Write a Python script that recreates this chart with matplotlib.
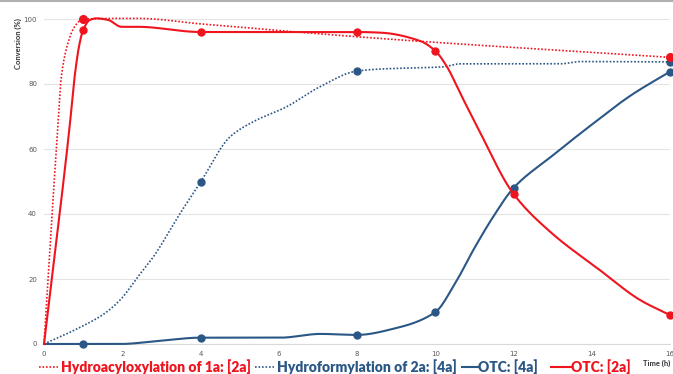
import numpy as np
import matplotlib
matplotlib.use("Agg")
import matplotlib.pyplot as plt
from matplotlib.lines import Line2D

# values (time in h, conversion in %)
red_dot_x = [0, 0.18, 0.36, 0.44, 0.61, 0.78, 1.0, 2.4, 4, 8.6, 16]
red_dot_y = [0, 35, 68, 82, 92.5, 97.6, 100, 100.2, 98.5, 94, 88.2]
red_dot_mx = [1, 16]
red_dot_my = [100, 88.2]

blue_dot_x = [0, 0.95, 1.55, 1.98, 2.4, 2.8, 3.48, 4, 4.76, 5.35, 6.2, 7.06, 8, 8.59, 10.2, 10.64, 13.2, 13.7, 16]
blue_dot_y = [0, 5.3, 9.4, 14.0, 20.7, 26.9, 40.2, 49.8, 63.8, 68.4, 73, 79.2, 84, 84.6, 85.3, 86.2, 86.2, 86.9, 86.8]
blue_dot_mx = [4, 8, 16]
blue_dot_my = [49.8, 84, 86.8]

blue_x = [0, 1, 1.94, 2.97, 4, 6.04, 7.06, 8, 9, 10, 10.5, 11, 11.5, 12, 13, 14, 15, 16]
blue_y = [0, 0, 0, 1.0, 1.95, 1.95, 3.1, 2.8, 4.9, 9.8, 18.5, 29.5, 39.5, 48, 58, 67.5, 76.5, 83.8]
blue_mx = [1, 4, 8, 10, 12, 16]
blue_my = [0, 2, 2.8, 9.8, 48, 83.8]

red_x = [0, 0.33, 0.66, 0.78, 0.91, 1, 1.17, 1.34, 1.64, 1.98, 2.4, 4, 8, 8.6, 9.6, 10, 10.3, 10.64, 11.07, 12, 12.94, 14.2, 15.24, 16]
red_y = [0, 33, 67.5, 82, 92.5, 96.6, 99.7, 100.2, 99.7, 97.6, 97.6, 96, 96, 95.8, 93.3, 90.2, 85.3, 77.1, 66.9, 46.2, 34.5, 22.8, 13.5, 8.9]
red_mx = [1, 4, 8, 10, 12, 16]
red_my = [96.6, 96, 96, 90.2, 46.2, 8.9]

RED = '#f0141e'
BLUE = '#2b5786'
W, H = 673, 374


def smooth(x, y, n=30):
    # monotone cubic (Fritsch-Carlson) just for drawing the curve
    x = np.asarray(x, float)
    y = np.asarray(y, float)
    h = np.diff(x)
    d = np.diff(y) / h
    m = np.zeros_like(y)
    m[0], m[-1] = d[0], d[-1]
    for k in range(1, len(x) - 1):
        if d[k - 1] * d[k] > 0:
            w1 = 2 * h[k] + h[k - 1]
            w2 = h[k] + 2 * h[k - 1]
            m[k] = (w1 + w2) / (w1 / d[k - 1] + w2 / d[k])
    xs, ys = [], []
    for k in range(len(x) - 1):
        t = np.linspace(0, 1, n, endpoint=False)
        h00 = 2 * t**3 - 3 * t**2 + 1
        h10 = t**3 - 2 * t**2 + t
        h01 = -2 * t**3 + 3 * t**2
        h11 = t**3 - t**2
        xs.append(x[k] + t * h[k])
        ys.append(h00 * y[k] + h10 * h[k] * m[k] + h01 * y[k + 1] + h11 * h[k] * m[k + 1])
    xs.append([x[-1]])
    ys.append([y[-1]])
    return np.concatenate(xs), np.concatenate(ys)


fig = plt.figure(figsize=(W / 100, H / 100), dpi=100)
ax = fig.add_axes([44 / W, 1 - 344 / H, 626 / W, 325 / H])
ax.set_xlim(0, 16)
ax.set_ylim(0, 100)

dots = (0, (1, 1.1))
sx, sy = smooth(blue_dot_x, blue_dot_y)
ax.plot(sx, sy, color=BLUE, lw=1.2, ls=dots, clip_on=False, zorder=3)
ax.plot(blue_dot_mx, blue_dot_my, 'o', color=BLUE, ms=5, clip_on=False, zorder=3)

sx, sy = smooth(red_dot_x, red_dot_y)
ax.plot(sx, sy, color=RED, lw=1.2, ls=dots, clip_on=False, zorder=4)
ax.plot(red_dot_mx, red_dot_my, 'o', color=RED, ms=5.5, clip_on=False, zorder=4)

sx, sy = smooth(blue_x, blue_y)
ax.plot(sx, sy, color=BLUE, lw=1.5, clip_on=False, zorder=5)
ax.plot(blue_mx, blue_my, 'o', color=BLUE, ms=5, clip_on=False, zorder=5)

sx, sy = smooth(red_x, red_y)
ax.plot(sx, sy, color=RED, lw=1.5, clip_on=False, zorder=6)
ax.plot(red_mx, red_my, 'o', color=RED, ms=5, clip_on=False, zorder=6)

ax.set_xticks(range(0, 17, 2))
ax.set_yticks(range(0, 101, 20))
for s in ['top', 'right', 'left']:
    ax.spines[s].set_visible(False)
ax.spines['bottom'].set_color('#d9d9d9')
ax.tick_params(length=0, labelsize=5, labelcolor='#595959', pad=5)
ax.yaxis.grid(True, color='#e4e4e4', lw=0.8)
ax.set_axisbelow(True)

# axis titles
fig.text(18 / W, 1 - 44 / H, 'Conversion (%)', rotation=90, ha='center', va='center',
         fontsize=5.5, fontweight='bold', family='Lato', color='#333333')
fig.text(643 / W, 1 - 363 / H, 'Time (h)', ha='left', va='center',
         fontsize=5.5, fontweight='bold', family='Lato', color='#333333')

# legend row drawn by hand along the bottom
ly = 1 - 367 / H
legend = [
    (39, 58, RED, dots, 1.2, 61, 'Hydroacyloxylation of 1a: [2a]'),
    (255, 274, BLUE, dots, 1.2, 277, 'Hydroformylation of 2a: [4a]'),
    (462, 478, BLUE, '-', 1.5, 478, 'OTC: [4a]'),
    (551, 571, RED, '-', 1.5, 571, 'OTC: [2a]'),
]
for x0, x1, c, st, lw, tx, label in legend:
    fig.add_artist(Line2D([x0 / W, x1 / W], [ly, ly], transform=fig.transFigure,
                          color=c, ls=st, lw=lw))
    fig.text(tx / W, ly, label, ha='left', va='center', color=c,
             fontsize=10, fontweight='heavy', family='Lato')

# thin grey border at the top edge
fig.add_artist(Line2D([0, 1], [1 - 1 / H, 1 - 1 / H], transform=fig.transFigure,
                      color='#b0b0b0', lw=1.5))

fig.savefig('out.png', dpi=100)
